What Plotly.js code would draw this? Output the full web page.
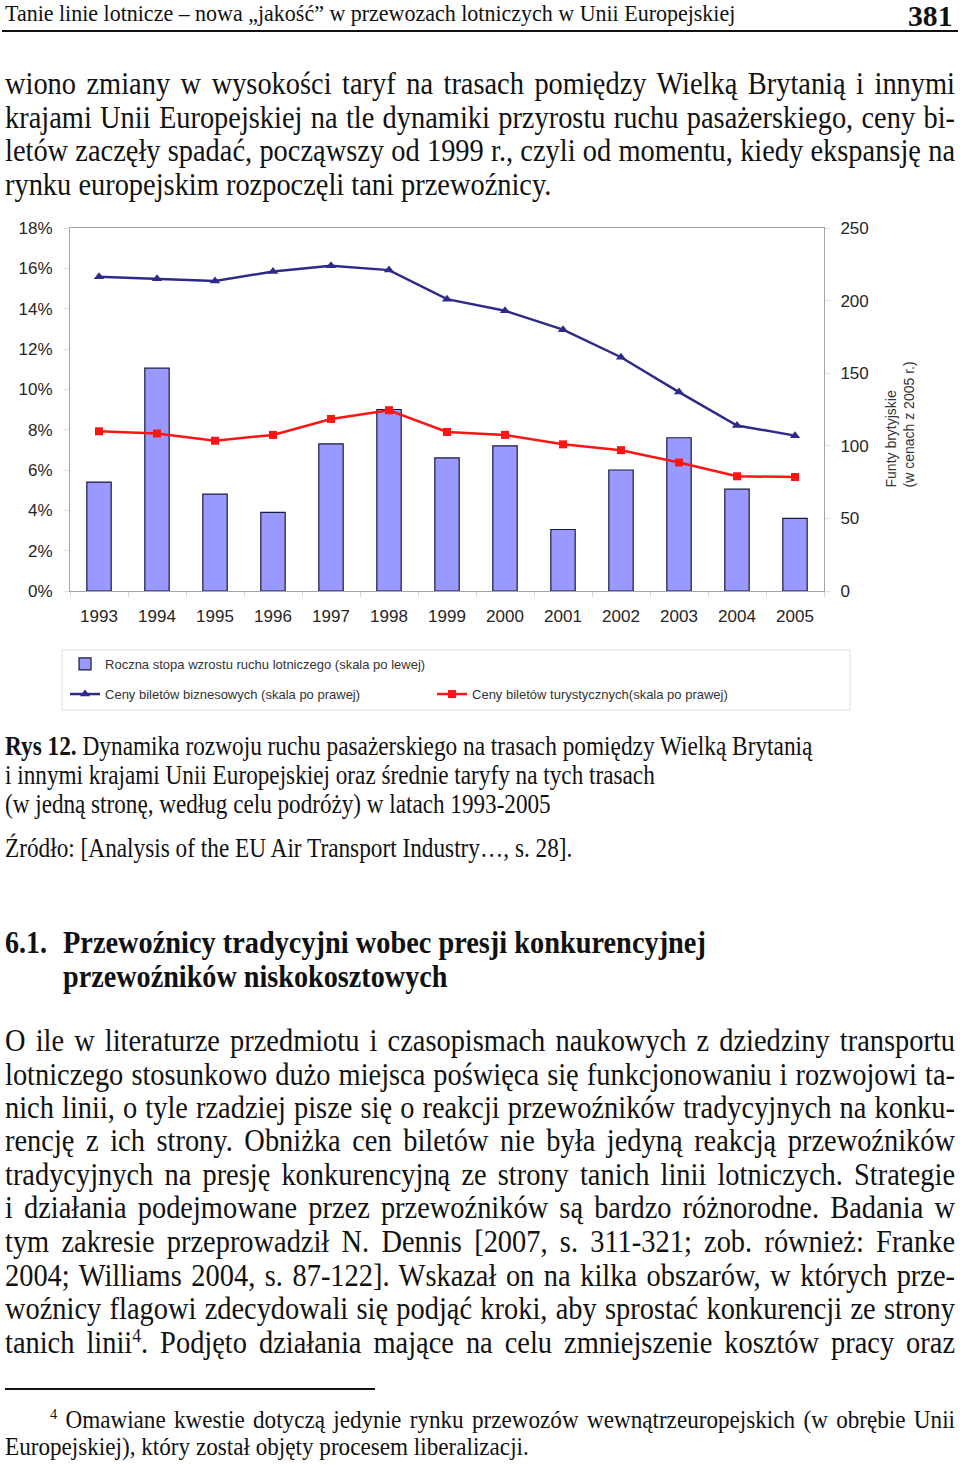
<!DOCTYPE html>
<html lang="pl"><head><meta charset="utf-8">
<script src="https://cdn.plot.ly/plotly-3.0.1.min.js"></script>
<style>
html,body{margin:0;padding:0;background:#fff;}
#page{position:relative;width:960px;height:1465px;overflow:hidden;background:#fff;font-family:"Liberation Serif","Times New Roman",serif;color:#111;}
.ln{position:absolute;white-space:nowrap;transform-origin:0 0;}
.ln sup{font-size:0.62em;vertical-align:0.55em;line-height:0;}
.rule{position:absolute;background:#111;}
#chart{position:absolute;left:0;top:205px;width:960px;height:530px;}
</style></head>
<body>
<div id="page">
  <div class="ln" data-x="5" data-y="14" data-w="730" data-fs="24">Tanie linie lotnicze – nowa „jakość” w przewozach lotniczych w Unii Europejskiej</div>
  <div class="ln" data-x="908" data-top="2" data-lh="29" data-w="45" data-fs="29" data-b="1">381</div>
  <div class="rule" style="left:2px;top:30px;width:956px;height:2px;"></div>

  <div class="ln" data-x="5" data-y="84" data-w="950" data-fs="32" data-j="1" data-blk="p">wiono zmiany w wysokości taryf na trasach pomiędzy Wielką Brytanią i innymi</div>
  <div class="ln" data-x="5" data-y="118" data-w="950" data-fs="32" data-j="1" data-blk="p">krajami Unii Europejskiej na tle dynamiki przyrostu ruchu pasażerskiego, ceny bi-</div>
  <div class="ln" data-x="5" data-y="151" data-w="950" data-fs="32" data-j="1" data-blk="p">letów zaczęły spadać, począwszy od 1999 r., czyli od momentu, kiedy ekspansję na</div>
  <div class="ln" data-x="5" data-y="185" data-w="546" data-fs="32" data-cal="p">rynku europejskim rozpoczęli tani przewoźnicy.</div>

  <div id="chart"></div>

  <div class="ln" data-x="5" data-y="748" data-w="807" data-fs="27"><b>Rys 12.</b> Dynamika rozwoju ruchu pasażerskiego na trasach pomiędzy Wielką Brytanią</div>
  <div class="ln" data-x="5" data-y="777" data-w="650" data-fs="27">i innymi krajami Unii Europejskiej oraz średnie taryfy na tych trasach</div>
  <div class="ln" data-x="5" data-y="806" data-w="546" data-fs="27">(w jedną stronę, według celu podróży) w latach 1993-2005</div>
  <div class="ln" data-x="5" data-y="850" data-w="567" data-fs="27">Źródło: [Analysis of the EU Air Transport Industry…, s. 28].</div>

  <div class="ln" data-x="5" data-y="943" data-w="42" data-fs="32" data-b="1">6.1.</div>
  <div class="ln" data-x="63" data-y="943" data-w="643" data-fs="32" data-b="1">Przewoźnicy tradycyjni wobec presji konkurencyjnej</div>
  <div class="ln" data-x="63" data-y="977" data-w="384" data-fs="32" data-b="1">przewoźników niskokosztowych</div>

  <div class="ln" data-x="5" data-y="1041" data-w="950" data-fs="32" data-j="1" data-blk="p">O ile w literaturze przedmiotu i czasopismach naukowych z dziedziny transportu</div>
  <div class="ln" data-x="5" data-y="1075" data-w="950" data-fs="32" data-j="1" data-blk="p">lotniczego stosunkowo dużo miejsca poświęca się funkcjonowaniu i rozwojowi ta-</div>
  <div class="ln" data-x="5" data-y="1108" data-w="950" data-fs="32" data-j="1" data-blk="p">nich linii, o tyle rzadziej pisze się o reakcji przewoźników tradycyjnych na konku-</div>
  <div class="ln" data-x="5" data-y="1141" data-w="950" data-fs="32" data-j="1" data-blk="p">rencję z ich strony. Obniżka cen biletów nie była jedyną reakcją przewoźników</div>
  <div class="ln" data-x="5" data-y="1175" data-w="950" data-fs="32" data-j="1" data-blk="p">tradycyjnych na presję konkurencyjną ze strony tanich linii lotniczych. Strategie</div>
  <div class="ln" data-x="5" data-y="1208" data-w="950" data-fs="32" data-j="1" data-blk="p">i działania podejmowane przez przewoźników są bardzo różnorodne. Badania w</div>
  <div class="ln" data-x="5" data-y="1242" data-w="950" data-fs="32" data-j="1" data-blk="p">tym zakresie przeprowadził N. Dennis [2007, s. 311-321; zob. również: Franke</div>
  <div class="ln" data-x="5" data-y="1276" data-w="950" data-fs="32" data-j="1" data-blk="p">2004; Williams 2004, s. 87-122]. Wskazał on na kilka obszarów, w których prze-</div>
  <div class="ln" data-x="5" data-y="1309" data-w="950" data-fs="32" data-j="1" data-blk="p">woźnicy flagowi zdecydowali się podjąć kroki, aby sprostać konkurencji ze strony</div>
  <div class="ln" data-x="5" data-y="1343" data-w="950" data-fs="32" data-j="1" data-blk="p">tanich linii<sup>4</sup>. Podjęto działania mające na celu zmniejszenie kosztów pracy oraz</div>

  <div class="rule" style="left:5px;top:1388px;width:370px;height:1.5px;"></div>
  <div class="ln" data-x="50" data-y="1420" data-w="905" data-fs="25" data-j="1" data-blk="f"><sup>4</sup> Omawiane kwestie dotyczą jedynie rynku przewozów wewnątrzeuropejskich (w obrębie Unii</div>
  <div class="ln" data-x="5" data-y="1447" data-w="524" data-fs="25" data-cal="f">Europejskiej), który został objęty procesem liberalizacji.</div>
</div>

<script>
// ---- chart data ----
const years = ['1993','1994','1995','1996','1997','1998','1999','2000','2001','2002','2003','2004','2005'];
const trafficGrowth = [5.4, 11.05, 4.8, 3.9, 7.3, 9.0, 6.6, 7.2, 3.05, 6.0, 7.6, 5.05, 3.6];      // % (left axis)
const businessFares = [216.5, 215, 213.5, 220, 224, 221, 201, 193, 180, 161, 137, 114, 107];       // GBP (right axis)
const touristFares  = [110, 108.5, 103.5, 107.5, 118.5, 124.5, 109.5, 107.5, 101, 97, 88.5, 79, 78.5]; // GBP (right axis)
const leftTickVals = [0, 2, 4, 6, 8, 10, 12, 14, 16, 18];
const leftTickText = ['0%', '2%', '4%', '6%', '8%', '10%', '12%', '14%', '16%', '18%'];
const rightTickVals = [0, 50, 100, 150, 200, 250];
const seriesNames = [
  'Roczna stopa wzrostu ruchu lotniczego (skala po lewej)',
  'Ceny biletów biznesowych (skala po prawej)',
  'Ceny biletów turystycznych(skala po prawej)'
];
const rightAxisTitle = 'Funty brytyjskie<br>(w cenach z 2005 r.)';

const traces = [
  {type:'bar', x:years, y:trafficGrowth, name:seriesNames[0], yaxis:'y', legend:'legend',
   marker:{color:'#9999ff', line:{color:'#1a1a40', width:1.2}}, hoverinfo:'skip'},
  {type:'scatter', mode:'lines+markers', x:years, y:businessFares, name:seriesNames[1], yaxis:'y2', legend:'legend2',
   line:{color:'#2d2a8c', width:2.5}, marker:{symbol:'triangle-up', size:9, color:'#2d2a8c'}, hoverinfo:'skip'},
  {type:'scatter', mode:'lines+markers', x:years, y:touristFares, name:seriesNames[2], yaxis:'y2', legend:'legend2',
   line:{color:'#ff1414', width:2.5}, marker:{symbol:'square', size:8, color:'#ff1414'}, hoverinfo:'skip'}
];

const frame = '#a6a6a6';
const layout = {
  width:960, height:530,
  margin:{l:70, r:136, t:23, b:144},
  paper_bgcolor:'#ffffff', plot_bgcolor:'#ffffff',
  font:{family:'"Liberation Sans", Arial, sans-serif', size:17, color:'#262626'},
  bargap:0.58,
  showlegend:true,
  xaxis:{type:'category', range:[-0.5, 12.5], showline:true, linecolor:frame, linewidth:1, mirror:true,
         ticks:'outside', tickson:'boundaries', ticklen:5, tickcolor:'#dcdcdc', ticklabelstandoff:10,
         showgrid:false, zeroline:false},
  yaxis:{range:[0, 18], tickvals:leftTickVals, ticktext:leftTickText, showline:true, linecolor:frame, linewidth:1,
         mirror:true, ticks:'outside', ticklen:5, tickcolor:'#e2e2e2', ticklabelstandoff:8,
         showgrid:false, zeroline:false},
  yaxis2:{overlaying:'y', side:'right', range:[0, 250], tickvals:rightTickVals, showline:true, linecolor:frame,
          linewidth:1, ticks:'outside', ticklen:5, tickcolor:'#e2e2e2', ticklabelstandoff:7,
          showgrid:false, zeroline:false},
  legend:{orientation:'h', x:-0.0066, xanchor:'left', y:-0.201, yanchor:'middle',
          font:{size:13, color:'#333'}, bgcolor:'rgba(0,0,0,0)'},
  legend2:{orientation:'h', x:-0.0066, xanchor:'left', y:-0.284, yanchor:'middle',
           font:{size:13, color:'#333'}, bgcolor:'rgba(0,0,0,0)', entrywidth:322, entrywidthmode:'pixels'},
  shapes:[{type:'rect', xref:'paper', yref:'paper', x0:-0.0106, x1:1.0345, y0:-0.328, y1:-0.1625,
           line:{color:'#e0e0e0', width:1}, fillcolor:'rgba(0,0,0,0)'}],
  annotations:[{xref:'paper', yref:'paper', x:1.1008, y:0.4587, xanchor:'center', yanchor:'middle',
                text:rightAxisTitle, textangle:-90, align:'left', showarrow:false,
                font:{size:14, color:'#333'}}]
};

Plotly.newPlot('chart', traces, layout, {displayModeBar:false, staticPlot:true});

// ---- page text line fitting ----
function layoutLines(){
  const els = Array.from(document.querySelectorAll('.ln'));
  els.forEach(el => {
    const fs = parseFloat(el.dataset.fs);
    const lh = el.dataset.lh ? parseFloat(el.dataset.lh) : fs;
    el.style.fontSize = fs + 'px';
    el.style.lineHeight = lh + 'px';
    el.style.left = el.dataset.x + 'px';
    el.style.top = (el.dataset.top !== undefined ? parseFloat(el.dataset.top) : (parseFloat(el.dataset.y) - 0.54 * fs)) + 'px';
    if (el.dataset.b === '1') el.style.fontWeight = 'bold';
  });
  const blockScale = {};
  els.forEach(el => {
    if (el.dataset.j) return;
    const nat = el.offsetWidth;
    const s = parseFloat(el.dataset.w) / nat;
    el.style.transform = 'scaleX(' + s + ')';
    if (el.dataset.cal) blockScale[el.dataset.cal] = s;
  });
  els.forEach(el => {
    if (!el.dataset.j) return;
    const nat = el.offsetWidth;
    const w = parseFloat(el.dataset.w);
    let s = blockScale[el.dataset.blk] || 0.88;
    if (nat * s > w - 2) s = (w - 2) / nat;
    el.style.whiteSpace = 'normal';
    el.style.width = (w / s) + 'px';
    el.style.textAlign = 'justify';
    el.style.textAlignLast = 'justify';
    el.style.transform = 'scaleX(' + s + ')';
  });
}
if (document.fonts && document.fonts.ready) { document.fonts.ready.then(layoutLines); } else { layoutLines(); }
</script>
</body></html>
